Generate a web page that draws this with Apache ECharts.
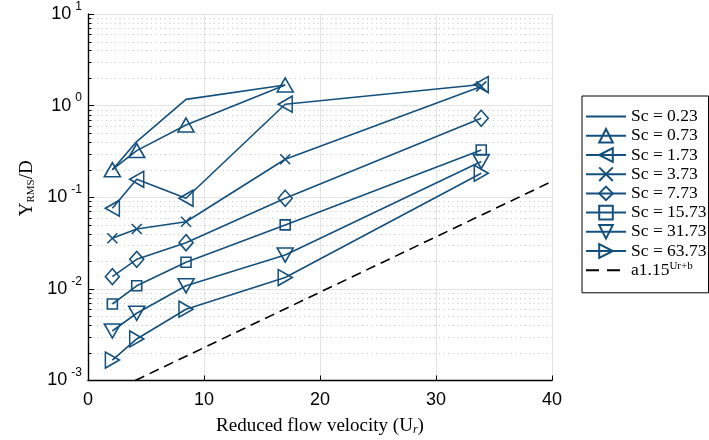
<!DOCTYPE html>
<html>
<head>
<meta charset="utf-8">
<script src="https://cdn.jsdelivr.net/npm/echarts@6/dist/echarts.min.js"></script>
<style>
  html, body { margin: 0; padding: 0; background: #fff; }
  #main { width: 709px; height: 440px; }
</style>
</head>
<body>
<div id="main"></div>
<script>
// reduced flow velocity of the five runs
var ur = [2.1, 4.2, 8.45, 17, 33.9];

// Y_RMS/D for each Sc
var sc023 = [0.199, 0.405, 1.17, 1.68];
var sc073 = [0.200, 0.323, 0.615, 1.68];
var sc173 = [0.076, 0.157, 0.0975, 1.036, 1.70];
var sc373 = [0.0357, 0.045, 0.054, 0.26, 1.62];
var sc773 = [0.0136, 0.021, 0.0319, 0.0975, 0.728];
var sc1573 = [0.00684, 0.0108, 0.0195, 0.0499, 0.328];
var sc3173 = [0.00347, 0.00542, 0.0108, 0.0234, 0.245];
var sc6373 = [0.00167, 0.00284, 0.006, 0.0133, 0.183];

// dashed reference line a*1.15^(Ur+b), end points
var fitX = [4.07, 40];
var fitY = [0.001, 0.149];

var xTicks = [0, 10, 20, 30, 40];
var decades = [-3, -2, -1, 0];
var minorMult = [2, 3, 4, 5, 6, 7, 8, 9];

var blue = '#14507d';
var serif = '"Liberation Serif", "DejaVu Serif", serif';
var sans = '"Liberation Sans", Arial, sans-serif';
var clear = 'rgba(0,0,0,0)';

function pairs(ys) {
    return ys.map(function (y, i) { return [ur[i], y]; });
}

var minorTicks = [];
decades.forEach(function (d) {
    minorMult.forEach(function (m) { minorTicks.push([0, m * Math.pow(10, d)]); });
});

function scSeries(name, ys, symbol, size, rotate) {
    var plain = symbol === 'none';
    return {
        name: name,
        type: 'line',
        data: pairs(ys),
        symbol: plain ? 'circle' : symbol,
        symbolSize: plain ? 1 : size,
        symbolRotate: rotate || 0,
        showSymbol: !plain,
        lineStyle: { color: blue, width: 1.6 },
        itemStyle: plain ? { color: clear, borderColor: clear, borderWidth: 0 }
            : { color: clear, borderColor: blue, borderWidth: 1.6 },
        z: 3
    };
}

var crossPath = 'path://M0,0L10,10M0,10L10,0';

var myChart = echarts.init(document.getElementById('main'));
var option = {
    animation: false,
    backgroundColor: '#fff',
    grid: { left: 88, right: 157, top: 14, bottom: 59.5, outerBoundsMode: 'none' },
    legend: {
        orient: 'vertical',
        left: 582,
        top: 96,
        itemWidth: 40,
        itemHeight: 17,
        itemGap: 0,
        padding: [11, 2, 13, 3],
        backgroundColor: '#fff',
        borderColor: '#000',
        borderWidth: 1,
        borderRadius: 0,
        textStyle: {
            fontFamily: serif, fontSize: 17.5, color: '#000', lineHeight: 19.2,
            rich: {
                n: { fontFamily: serif, fontSize: 17.5, color: '#000', lineHeight: 19.2 },
                s: { fontFamily: serif, fontSize: 11, color: '#000', verticalAlign: 'top', lineHeight: 12 }
            }
        },
        formatter: function (name) {
            if (name.indexOf('a1.15') === 0) return '{n|a1.15}{s|Ur+b}';
            return '{n|' + name + '}';
        },
        data: ['Sc = 0.23', 'Sc = 0.73', 'Sc = 1.73', 'Sc = 3.73', 'Sc = 7.73',
            'Sc = 15.73', 'Sc = 31.73', 'Sc = 63.73',
            { name: 'a1.15^(Ur+b)', lineStyle: { type: [13, 8] } }]
    },
    xAxis: {
        type: 'value',
        min: xTicks[0],
        max: xTicks[xTicks.length - 1],
        interval: 10,
        name: '{a|Reduced flow velocity (U}{i|r}{a|)}',
        nameLocation: 'middle',
        nameGap: 36,
        nameTextStyle: {
            rich: {
                a: { fontFamily: serif, fontSize: 19, color: '#000' },
                i: { fontFamily: serif, fontSize: 12, fontStyle: 'italic', color: '#000', verticalAlign: 'bottom' }
            }
        },
        axisLine: { lineStyle: { color: '#000', width: 1.4 } },
        axisTick: { inside: true, length: 5, lineStyle: { color: '#000', width: 1 } },
        axisLabel: { fontFamily: sans, fontSize: 18, color: '#000', margin: 11 },
        splitLine: { show: true, lineStyle: { color: '#e3e3e3', width: 1 } }
    },
    yAxis: {
        type: 'log',
        logBase: 10,
        min: 0.001,
        max: 10,
        interval: 1,
        name: '{a|Y}{s|RMS}{a|/D}',
        nameLocation: 'middle',
        nameRotate: 90,
        nameGap: 51,
        nameTextStyle: {
            padding: [0, 0, 0, 18],
            rich: {
                a: { fontFamily: serif, fontSize: 19, color: '#000' },
                s: { fontFamily: serif, fontSize: 11, color: '#000', verticalAlign: 'bottom' }
            }
        },
        axisLine: { show: true, lineStyle: { color: '#000', width: 1.4 } },
        axisTick: { inside: true, length: 6, lineStyle: { color: '#000', width: 1 } },
        axisLabel: {
            margin: 6,
            formatter: function (v) {
                var e = Math.round(Math.log(v) / Math.LN10);
                return '{b|10}{s|' + e + '}';
            },
            rich: {
                b: { fontFamily: sans, fontSize: 18, color: '#000', lineHeight: 27 },
                s: { fontFamily: sans, fontSize: 12, color: '#000', verticalAlign: 'top', lineHeight: 13, padding: [0, 0, 0, 4] }
            }
        },
        splitLine: { show: true, lineStyle: { color: '#e3e3e3', width: 1 } }
    },
    series: [
        {
            name: 'minor',
            type: 'custom',
            silent: true,
            z: 1,
            data: minorTicks,
            renderItem: function (params, api) {
                var v = api.value(1);
                var p0 = api.coord([xTicks[0], v]);
                var p1 = api.coord([xTicks[xTicks.length - 1], v]);
                var y = Math.round(p0[1]) + 0.5;
                return {
                    type: 'group',
                    children: [
                        { type: 'line', shape: { x1: p0[0], y1: y, x2: p1[0], y2: y },
                          style: { stroke: '#c6c6c6', lineWidth: 1, lineDash: [1, 3.5] } },
                        { type: 'line', shape: { x1: p0[0], y1: y, x2: p0[0] + 3.5, y2: y },
                          style: { stroke: '#000', lineWidth: 1 } }
                    ]
                };
            }
        },
        scSeries('Sc = 0.23', sc023, 'none', 0),
        scSeries('Sc = 0.73', sc073, 'triangle', [16, 14]),
        scSeries('Sc = 1.73', sc173, 'triangle', [16, 14], 90),
        scSeries('Sc = 3.73', sc373, crossPath, 10),
        scSeries('Sc = 7.73', sc773, 'diamond', [14, 16]),
        scSeries('Sc = 15.73', sc1573, 'rect', 10),
        scSeries('Sc = 31.73', sc3173, 'triangle', [16, 14], 180),
        scSeries('Sc = 63.73', sc6373, 'triangle', [16, 14], -90),
        {
            name: 'a1.15^(Ur+b)',
            type: 'line',
            data: fitX.map(function (x, i) { return [x, fitY[i]]; }),
            symbol: 'circle',
            symbolSize: 1,
            showSymbol: false,
            lineStyle: { color: '#000', width: 1.6, type: [10, 6] },
            itemStyle: { color: clear, borderColor: clear, borderWidth: 0 },
            z: 2
        }
    ]
};
myChart.setOption(option);
window.addEventListener('resize', function () {
    myChart.resize();
});
</script>
</body>
</html>
